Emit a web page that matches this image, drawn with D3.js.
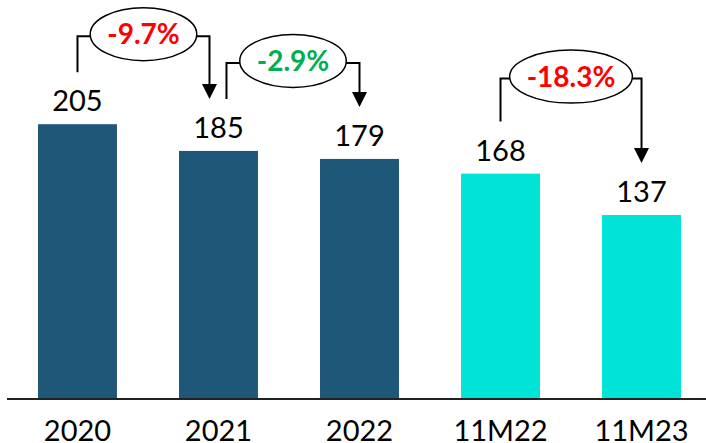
<!DOCTYPE html>
<html>
<head>
<meta charset="utf-8">
<script src="https://cdn.jsdelivr.net/npm/d3@7/dist/d3.min.js"></script>
<style>
  html, body { margin: 0; padding: 0; background: #fff; }
  svg { display: block; }
  text { font-family: Lato, "Open Sans", sans-serif; }
</style>
</head>
<body>
<svg id="chart" width="706" height="443"></svg>
<script>
// ---- data ----
const categories = ["2020", "2021", "2022", "11M22", "11M23"];
const values = [205, 185, 179, 168, 137];
const periodType = ["year", "year", "year", "ytd", "ytd"];
const changeFrom = ["2020", "2021", "11M22"];
const changeTo = ["2021", "2022", "11M23"];
const changeLabels = ["-9.7%", "-2.9%", "-18.3%"];
const changeTone = ["bad", "good", "bad"];

// ---- style ----
const W = 706, H = 443;
const barColor = { year: "#1F5779", ytd: "#00E3D7" };
const toneColor = { bad: "#FF0000", good: "#00B050" };
const annLift = [88, 88, 95];

const svg = d3.select("#chart");

const x = d3.scaleBand().domain(categories).range([38, 681]).paddingInner(0.44).paddingOuter(0);
const y = d3.scaleLinear().domain([0, 298]).range([398, 0]);

const data = categories.map((c, i) => ({ cat: c, value: values[i], type: periodType[i] }));

// bars
svg.append("g").selectAll("rect").data(data).join("rect")
  .attr("x", d => x(d.cat))
  .attr("width", x.bandwidth())
  .attr("y", d => y(d.value))
  .attr("height", d => y(0) - y(d.value))
  .attr("fill", d => barColor[d.type]);

// value labels
svg.append("g").selectAll("text").data(data).join("text")
  .attr("x", d => x(d.cat) + x.bandwidth() / 2)
  .attr("y", d => y(d.value) - 13)
  .attr("text-anchor", "middle")
  .attr("font-size", 29)
  .attr("fill", "#000")
  .text(d => d.value);

// baseline
svg.append("line")
  .attr("x1", 7).attr("x2", W)
  .attr("y1", y(0) + 1).attr("y2", y(0) + 1)
  .attr("stroke", "#222").attr("stroke-width", 1.8);

// x axis labels
const axisG = svg.append("g").attr("transform", `translate(0, 441)`)
  .call(d3.axisBottom(x).tickSize(0).tickPadding(0));
axisG.select(".domain").remove();
axisG.selectAll("text")
  .attr("y", 0).attr("dy", 0)
  .attr("font-size", 29)
  .attr("font-family", "Lato, 'Open Sans', sans-serif")
  .attr("fill", "#000");

// change annotations
const valueOf = c => values[categories.indexOf(c)];
const cx = c => x(c) + x.bandwidth() / 2;

changeFrom.forEach((f, i) => {
  const t = changeTo[i];
  let x1 = cx(f), x2 = cx(t);
  if (changeTo.includes(f)) x1 += 8;      // start where another arrow ends
  if (changeFrom.includes(t)) x2 -= 9;    // end where another bracket starts
  const vf = valueOf(f), vt = valueOf(t);
  const level = y(Math.max(vf, vt)) - annLift[i];
  const yStart = y(vf) - 52;
  const yTip = y(vt) - 52;
  const g = svg.append("g");

  g.append("path")
    .attr("d", `M${x1},${yStart} V${level} H${x2} V${yTip - 14}`)
    .attr("fill", "none")
    .attr("stroke", "#000")
    .attr("stroke-width", 2);

  g.append("path")
    .attr("d", `M${x2 - 7.5},${yTip - 15} L${x2 + 7.5},${yTip - 15} L${x2},${yTip} Z`)
    .attr("fill", "#000");

  const mx = (x1 + x2) / 2;
  const ell = g.append("ellipse")
    .attr("cx", mx).attr("cy", level - 2)
    .attr("ry", 26.5)
    .attr("fill", "#fff")
    .attr("stroke", "#000")
    .attr("stroke-width", 1.5);

  const txt = g.append("text")
    .attr("x", mx).attr("y", level + 8)
    .attr("text-anchor", "middle")
    .attr("font-size", 28)
    .attr("font-weight", "bold")
    .attr("fill", toneColor[changeTone[i]])
    .text(changeLabels[i]);
  const w = txt.node().getComputedTextLength();
  ell.attr("rx", w / 2 + 17);
});
</script>
</body>
</html>
